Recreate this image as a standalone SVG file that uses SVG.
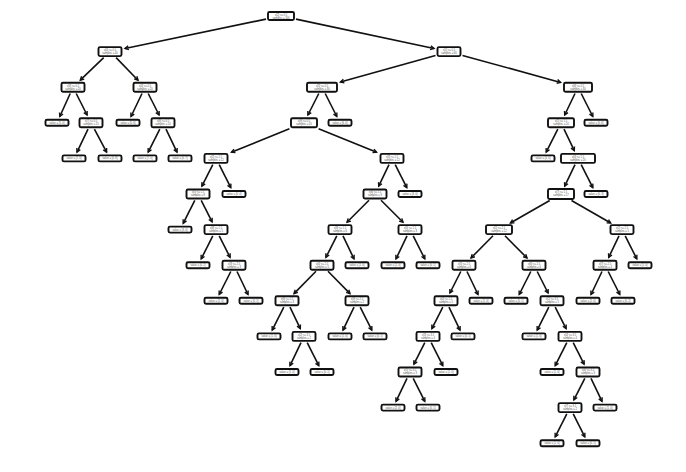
<svg xmlns="http://www.w3.org/2000/svg" width="686" height="472" viewBox="0 0 686 472">
<style>
.b{fill:#fff;stroke:#111;stroke-width:1.9}
.t{font-family:"Liberation Sans",Arial,sans-serif;font-size:2.6px;fill:#555;text-anchor:middle}
.e line{stroke:#111;stroke-width:1.6;fill:none;marker-end:url(#ah)}
</style>
<defs>
<marker id="ah" markerUnits="userSpaceOnUse" viewBox="-5 -3 6 6" refX="0" refY="0" markerWidth="6" markerHeight="6" orient="auto" overflow="visible">
<path d="M-3.6,-1.9 L0,0 L-3.6,1.9" fill="none" stroke="#111" stroke-width="1.4"/>
</marker>
</defs>
<rect width="686" height="472" fill="#fff"/>
<g id="edges" class="e">
<line x1="266" y1="19.1" x2="125" y2="48.5"/>
<line x1="296" y1="19.1" x2="434" y2="48.5"/>
<line x1="103.7" y1="57.6" x2="80.3" y2="80.2"/>
<line x1="116.1" y1="57.6" x2="138" y2="80.2"/>
<line x1="435.5" y1="55.4" x2="340.4" y2="82"/>
<line x1="462.5" y1="55.4" x2="560.6" y2="82.4"/>
<line x1="70.2" y1="93.5" x2="59.8" y2="116.5"/>
<line x1="76.2" y1="93.5" x2="87.1" y2="115"/>
<line x1="142" y1="93.5" x2="131" y2="116.5"/>
<line x1="148.2" y1="93.5" x2="159.1" y2="115"/>
<line x1="318.8" y1="93.5" x2="307.9" y2="115"/>
<line x1="325.2" y1="93.5" x2="336.8" y2="116.5"/>
<line x1="575" y1="93.5" x2="564.7" y2="115"/>
<line x1="581.2" y1="93.5" x2="592.8" y2="116.5"/>
<line x1="88" y1="129.1" x2="77" y2="152.1"/>
<line x1="94.4" y1="129.1" x2="106.6" y2="152.1"/>
<line x1="159.8" y1="129.1" x2="148.2" y2="152.1"/>
<line x1="166" y1="129.1" x2="177" y2="152.1"/>
<line x1="289.4" y1="128.8" x2="231.4" y2="152.2"/>
<line x1="318.6" y1="128.8" x2="376.6" y2="152.2"/>
<line x1="557.8" y1="129.1" x2="546.2" y2="152.1"/>
<line x1="564" y1="129.1" x2="574.3" y2="150.6"/>
<line x1="212.8" y1="164.7" x2="201.9" y2="186.2"/>
<line x1="219.2" y1="164.7" x2="230.8" y2="187.7"/>
<line x1="389" y1="164.7" x2="378.7" y2="186.2"/>
<line x1="395.2" y1="164.7" x2="406.8" y2="187.7"/>
<line x1="575" y1="164.7" x2="564.7" y2="186.2"/>
<line x1="581.2" y1="164.7" x2="592.8" y2="187.7"/>
<line x1="194.8" y1="200.3" x2="183.2" y2="223.3"/>
<line x1="201.2" y1="200.3" x2="212.1" y2="221.8"/>
<line x1="369" y1="200.2" x2="347" y2="222.3"/>
<line x1="381" y1="200.2" x2="403" y2="222.3"/>
<line x1="549.7" y1="200.5" x2="510.4" y2="223"/>
<line x1="571.5" y1="200.5" x2="610.7" y2="223"/>
<line x1="212.8" y1="235.9" x2="201.2" y2="258.9"/>
<line x1="219.2" y1="235.9" x2="230.1" y2="257.4"/>
<line x1="336.8" y1="235.9" x2="325.9" y2="257.4"/>
<line x1="343" y1="235.9" x2="354" y2="258.9"/>
<line x1="407" y1="235.9" x2="396" y2="258.9"/>
<line x1="413.2" y1="235.9" x2="424.8" y2="258.9"/>
<line x1="493" y1="235.8" x2="471" y2="258"/>
<line x1="505" y1="235.8" x2="527" y2="258"/>
<line x1="619" y1="235.9" x2="608.7" y2="257.4"/>
<line x1="625.2" y1="235.9" x2="636.8" y2="258.9"/>
<line x1="230.8" y1="271.5" x2="219.2" y2="294.5"/>
<line x1="237" y1="271.5" x2="248" y2="294.5"/>
<line x1="316" y1="271.3" x2="294" y2="293.6"/>
<line x1="328" y1="271.3" x2="350" y2="293.6"/>
<line x1="460.8" y1="271.5" x2="449.9" y2="293"/>
<line x1="467" y1="271.5" x2="478" y2="294.5"/>
<line x1="530.8" y1="271.5" x2="519.2" y2="294.5"/>
<line x1="537.2" y1="271.5" x2="548.1" y2="293"/>
<line x1="602" y1="271.5" x2="591" y2="294.5"/>
<line x1="608.2" y1="271.5" x2="619.8" y2="294.5"/>
<line x1="283.8" y1="307.1" x2="272.2" y2="330.1"/>
<line x1="290" y1="307.1" x2="300.3" y2="328.6"/>
<line x1="354" y1="307.1" x2="343" y2="330.1"/>
<line x1="360.2" y1="307.1" x2="371.8" y2="330.1"/>
<line x1="442.8" y1="307.1" x2="431.9" y2="328.6"/>
<line x1="449" y1="307.1" x2="460" y2="330.1"/>
<line x1="548.8" y1="307.1" x2="537.2" y2="330.1"/>
<line x1="555.2" y1="307.1" x2="566.1" y2="328.6"/>
<line x1="301" y1="342.7" x2="290" y2="365.7"/>
<line x1="307.2" y1="342.7" x2="318.8" y2="365.7"/>
<line x1="424.8" y1="342.7" x2="413.9" y2="364.2"/>
<line x1="431.2" y1="342.7" x2="442.8" y2="365.7"/>
<line x1="566.8" y1="342.7" x2="555.2" y2="365.7"/>
<line x1="573.2" y1="342.7" x2="584.1" y2="364.2"/>
<line x1="407" y1="378.3" x2="396" y2="401.3"/>
<line x1="413.2" y1="378.3" x2="424.8" y2="401.3"/>
<line x1="584.8" y1="378.3" x2="573.9" y2="399.8"/>
<line x1="591" y1="378.3" x2="602" y2="401.3"/>
<line x1="566.8" y1="413.9" x2="555.2" y2="436.9"/>
<line x1="573.2" y1="413.9" x2="584.8" y2="436.9"/>
</g>
<g id="n0" transform="translate(281,16)"><rect class="b" x="-13" y="-4" width="26" height="8" rx="1.5"/><text class="t" y="-0.4">x[2] &lt;= 0.5</text><text class="t" y="2.6">samples = 100</text></g>
<g id="n1" transform="translate(110,51.6)"><rect class="b" x="-11.5" y="-4.5" width="23" height="9" rx="1.5"/><text class="t" y="-0.6">x[0] &lt;= 0.5</text><text class="t" y="2.4">samples = 40</text></g>
<g id="n2" transform="translate(449,51.6)"><rect class="b" x="-11.5" y="-4.5" width="23" height="9" rx="1.5"/><text class="t" y="-0.6">x[1] &lt;= 0.5</text><text class="t" y="2.4">samples = 60</text></g>
<g id="n3" transform="translate(73,87.2)"><rect class="b" x="-11.5" y="-4.5" width="23" height="9" rx="1.5"/><text class="t" y="-0.6">x[3] &lt;= 0.5</text><text class="t" y="2.4">samples = 20</text></g>
<g id="n4" transform="translate(145,87.2)"><rect class="b" x="-11.5" y="-4.5" width="23" height="9" rx="1.5"/><text class="t" y="-0.6">x[4] &lt;= 0.5</text><text class="t" y="2.4">samples = 20</text></g>
<g id="n5" transform="translate(322,87.2)"><rect class="b" x="-15" y="-4.5" width="30" height="9" rx="1.5"/><text class="t" y="-0.6">x[5] &lt;= 0.5</text><text class="t" y="2.4">samples = 30</text></g>
<g id="n6" transform="translate(578,87.2)"><rect class="b" x="-14" y="-4.5" width="28" height="9" rx="1.5"/><text class="t" y="-0.6">x[6] &lt;= 0.5</text><text class="t" y="2.4">samples = 30</text></g>
<g id="n7" transform="translate(57,122.8)"><rect class="b" x="-11.5" y="-3" width="23" height="6" rx="1.5"/><text class="t" y="1">value = [5, 0]</text></g>
<g id="n8" transform="translate(91,122.8)"><rect class="b" x="-11.5" y="-4.5" width="23" height="9" rx="1.5"/><text class="t" y="-0.6">x[7] &lt;= 0.5</text><text class="t" y="2.4">samples = 15</text></g>
<g id="n9" transform="translate(128,122.8)"><rect class="b" x="-11.5" y="-3" width="23" height="6" rx="1.5"/><text class="t" y="1">value = [0, 6]</text></g>
<g id="n10" transform="translate(163,122.8)"><rect class="b" x="-11.5" y="-4.5" width="23" height="9" rx="1.5"/><text class="t" y="-0.6">x[8] &lt;= 0.5</text><text class="t" y="2.4">samples = 14</text></g>
<g id="n11" transform="translate(304,122.8)"><rect class="b" x="-13" y="-4.5" width="26" height="9" rx="1.5"/><text class="t" y="-0.6">x[9] &lt;= 0.5</text><text class="t" y="2.4">samples = 24</text></g>
<g id="n12" transform="translate(340,122.8)"><rect class="b" x="-11.5" y="-3" width="23" height="6" rx="1.5"/><text class="t" y="1">value = [6, 0]</text></g>
<g id="n13" transform="translate(561,122.8)"><rect class="b" x="-13" y="-4.5" width="26" height="9" rx="1.5"/><text class="t" y="-0.6">x[1] &lt;= 1.5</text><text class="t" y="2.4">samples = 24</text></g>
<g id="n14" transform="translate(596,122.8)"><rect class="b" x="-11.5" y="-3" width="23" height="6" rx="1.5"/><text class="t" y="1">value = [0, 6]</text></g>
<g id="n15" transform="translate(74,158.4)"><rect class="b" x="-11.5" y="-3" width="23" height="6" rx="1.5"/><text class="t" y="1">value = [7, 0]</text></g>
<g id="n16" transform="translate(110,158.4)"><rect class="b" x="-11.5" y="-3" width="23" height="6" rx="1.5"/><text class="t" y="1">value = [0, 8]</text></g>
<g id="n17" transform="translate(145,158.4)"><rect class="b" x="-11.5" y="-3" width="23" height="6" rx="1.5"/><text class="t" y="1">value = [7, 0]</text></g>
<g id="n18" transform="translate(180,158.4)"><rect class="b" x="-11.5" y="-3" width="23" height="6" rx="1.5"/><text class="t" y="1">value = [0, 7]</text></g>
<g id="n19" transform="translate(216,158.4)"><rect class="b" x="-11.5" y="-4.5" width="23" height="9" rx="1.5"/><text class="t" y="-0.6">x[2] &lt;= 1.5</text><text class="t" y="2.4">samples = 12</text></g>
<g id="n20" transform="translate(392,158.4)"><rect class="b" x="-11.5" y="-4.5" width="23" height="9" rx="1.5"/><text class="t" y="-0.6">x[3] &lt;= 1.5</text><text class="t" y="2.4">samples = 12</text></g>
<g id="n21" transform="translate(543,158.4)"><rect class="b" x="-11.5" y="-3" width="23" height="6" rx="1.5"/><text class="t" y="1">value = [4, 0]</text></g>
<g id="n22" transform="translate(578,158.4)"><rect class="b" x="-17" y="-4.5" width="34" height="9" rx="1.5"/><text class="t" y="-0.6">x[4] &lt;= 1.5</text><text class="t" y="2.4">samples = 20</text></g>
<g id="n23" transform="translate(198,194)"><rect class="b" x="-11.5" y="-4.5" width="23" height="9" rx="1.5"/><text class="t" y="-0.6">x[5] &lt;= 1.5</text><text class="t" y="2.4">samples = 8</text></g>
<g id="n24" transform="translate(234,194)"><rect class="b" x="-11.5" y="-3" width="23" height="6" rx="1.5"/><text class="t" y="1">value = [0, 4]</text></g>
<g id="n25" transform="translate(375,194)"><rect class="b" x="-11.5" y="-4.5" width="23" height="9" rx="1.5"/><text class="t" y="-0.6">x[6] &lt;= 1.5</text><text class="t" y="2.4">samples = 9</text></g>
<g id="n26" transform="translate(410,194)"><rect class="b" x="-11.5" y="-3" width="23" height="6" rx="1.5"/><text class="t" y="1">value = [3, 0]</text></g>
<g id="n27" transform="translate(561,194)"><rect class="b" x="-13" y="-5" width="26" height="10" rx="1.5"/><text class="t" y="-0.6">x[7] &lt;= 1.5</text><text class="t" y="2.4">samples = 17</text></g>
<g id="n28" transform="translate(596,194)"><rect class="b" x="-11.5" y="-3" width="23" height="6" rx="1.5"/><text class="t" y="1">value = [0, 3]</text></g>
<g id="n29" transform="translate(180,229.6)"><rect class="b" x="-11.5" y="-3" width="23" height="6" rx="1.5"/><text class="t" y="1">value = [3, 0]</text></g>
<g id="n30" transform="translate(216,229.6)"><rect class="b" x="-11.5" y="-4.5" width="23" height="9" rx="1.5"/><text class="t" y="-0.6">x[8] &lt;= 1.5</text><text class="t" y="2.4">samples = 5</text></g>
<g id="n31" transform="translate(340,229.6)"><rect class="b" x="-11.5" y="-4.5" width="23" height="9" rx="1.5"/><text class="t" y="-0.6">x[9] &lt;= 1.5</text><text class="t" y="2.4">samples = 6</text></g>
<g id="n32" transform="translate(410,229.6)"><rect class="b" x="-11.5" y="-4.5" width="23" height="9" rx="1.5"/><text class="t" y="-0.6">x[0] &lt;= 1.5</text><text class="t" y="2.4">samples = 3</text></g>
<g id="n33" transform="translate(499,229.6)"><rect class="b" x="-13" y="-4.5" width="26" height="9" rx="1.5"/><text class="t" y="-0.6">x[1] &lt;= 2.5</text><text class="t" y="2.4">samples = 12</text></g>
<g id="n34" transform="translate(622,229.6)"><rect class="b" x="-11.5" y="-4.5" width="23" height="9" rx="1.5"/><text class="t" y="-0.6">x[2] &lt;= 2.5</text><text class="t" y="2.4">samples = 5</text></g>
<g id="n35" transform="translate(198,265.2)"><rect class="b" x="-11.5" y="-3" width="23" height="6" rx="1.5"/><text class="t" y="1">value = [0, 2]</text></g>
<g id="n36" transform="translate(234,265.2)"><rect class="b" x="-11.5" y="-4.5" width="23" height="9" rx="1.5"/><text class="t" y="-0.6">x[3] &lt;= 2.5</text><text class="t" y="2.4">samples = 3</text></g>
<g id="n37" transform="translate(322,265.2)"><rect class="b" x="-11.5" y="-4.5" width="23" height="9" rx="1.5"/><text class="t" y="-0.6">x[4] &lt;= 2.5</text><text class="t" y="2.4">samples = 5</text></g>
<g id="n38" transform="translate(357,265.2)"><rect class="b" x="-11.5" y="-3" width="23" height="6" rx="1.5"/><text class="t" y="1">value = [1, 0]</text></g>
<g id="n39" transform="translate(393,265.2)"><rect class="b" x="-11.5" y="-3" width="23" height="6" rx="1.5"/><text class="t" y="1">value = [2, 0]</text></g>
<g id="n40" transform="translate(428,265.2)"><rect class="b" x="-11.5" y="-3" width="23" height="6" rx="1.5"/><text class="t" y="1">value = [0, 1]</text></g>
<g id="n41" transform="translate(464,265.2)"><rect class="b" x="-11.5" y="-4.5" width="23" height="9" rx="1.5"/><text class="t" y="-0.6">x[5] &lt;= 2.5</text><text class="t" y="2.4">samples = 6</text></g>
<g id="n42" transform="translate(534,265.2)"><rect class="b" x="-11.5" y="-4.5" width="23" height="9" rx="1.5"/><text class="t" y="-0.6">x[6] &lt;= 2.5</text><text class="t" y="2.4">samples = 6</text></g>
<g id="n43" transform="translate(605,265.2)"><rect class="b" x="-11.5" y="-4.5" width="23" height="9" rx="1.5"/><text class="t" y="-0.6">x[7] &lt;= 2.5</text><text class="t" y="2.4">samples = 4</text></g>
<g id="n44" transform="translate(640,265.2)"><rect class="b" x="-11.5" y="-3" width="23" height="6" rx="1.5"/><text class="t" y="1">value = [1, 0]</text></g>
<g id="n45" transform="translate(216,300.8)"><rect class="b" x="-11.5" y="-3" width="23" height="6" rx="1.5"/><text class="t" y="1">value = [2, 0]</text></g>
<g id="n46" transform="translate(251,300.8)"><rect class="b" x="-11.5" y="-3" width="23" height="6" rx="1.5"/><text class="t" y="1">value = [0, 1]</text></g>
<g id="n47" transform="translate(287,300.8)"><rect class="b" x="-11.5" y="-4.5" width="23" height="9" rx="1.5"/><text class="t" y="-0.6">x[8] &lt;= 2.5</text><text class="t" y="2.4">samples = 3</text></g>
<g id="n48" transform="translate(357,300.8)"><rect class="b" x="-11.5" y="-4.5" width="23" height="9" rx="1.5"/><text class="t" y="-0.6">x[9] &lt;= 2.5</text><text class="t" y="2.4">samples = 2</text></g>
<g id="n49" transform="translate(446,300.8)"><rect class="b" x="-11.5" y="-4.5" width="23" height="9" rx="1.5"/><text class="t" y="-0.6">x[0] &lt;= 2.5</text><text class="t" y="2.4">samples = 5</text></g>
<g id="n50" transform="translate(481,300.8)"><rect class="b" x="-11.5" y="-3" width="23" height="6" rx="1.5"/><text class="t" y="1">value = [1, 0]</text></g>
<g id="n51" transform="translate(516,300.8)"><rect class="b" x="-11.5" y="-3" width="23" height="6" rx="1.5"/><text class="t" y="1">value = [0, 1]</text></g>
<g id="n52" transform="translate(552,300.8)"><rect class="b" x="-11.5" y="-4.5" width="23" height="9" rx="1.5"/><text class="t" y="-0.6">x[1] &lt;= 3.5</text><text class="t" y="2.4">samples = 5</text></g>
<g id="n53" transform="translate(588,300.8)"><rect class="b" x="-11.5" y="-3" width="23" height="6" rx="1.5"/><text class="t" y="1">value = [2, 0]</text></g>
<g id="n54" transform="translate(623,300.8)"><rect class="b" x="-11.5" y="-3" width="23" height="6" rx="1.5"/><text class="t" y="1">value = [0, 2]</text></g>
<g id="n55" transform="translate(269,336.4)"><rect class="b" x="-11.5" y="-3" width="23" height="6" rx="1.5"/><text class="t" y="1">value = [1, 0]</text></g>
<g id="n56" transform="translate(304,336.4)"><rect class="b" x="-11.5" y="-4.5" width="23" height="9" rx="1.5"/><text class="t" y="-0.6">x[2] &lt;= 3.5</text><text class="t" y="2.4">samples = 2</text></g>
<g id="n57" transform="translate(340,336.4)"><rect class="b" x="-11.5" y="-3" width="23" height="6" rx="1.5"/><text class="t" y="1">value = [1, 0]</text></g>
<g id="n58" transform="translate(375,336.4)"><rect class="b" x="-11.5" y="-3" width="23" height="6" rx="1.5"/><text class="t" y="1">value = [0, 1]</text></g>
<g id="n59" transform="translate(428,336.4)"><rect class="b" x="-11.5" y="-4.5" width="23" height="9" rx="1.5"/><text class="t" y="-0.6">x[3] &lt;= 3.5</text><text class="t" y="2.4">samples = 4</text></g>
<g id="n60" transform="translate(463,336.4)"><rect class="b" x="-11.5" y="-3" width="23" height="6" rx="1.5"/><text class="t" y="1">value = [0, 1]</text></g>
<g id="n61" transform="translate(534,336.4)"><rect class="b" x="-11.5" y="-3" width="23" height="6" rx="1.5"/><text class="t" y="1">value = [1, 0]</text></g>
<g id="n62" transform="translate(570,336.4)"><rect class="b" x="-11.5" y="-4.5" width="23" height="9" rx="1.5"/><text class="t" y="-0.6">x[4] &lt;= 3.5</text><text class="t" y="2.4">samples = 4</text></g>
<g id="n63" transform="translate(287,372)"><rect class="b" x="-11.5" y="-3" width="23" height="6" rx="1.5"/><text class="t" y="1">value = [1, 0]</text></g>
<g id="n64" transform="translate(322,372)"><rect class="b" x="-11.5" y="-3" width="23" height="6" rx="1.5"/><text class="t" y="1">value = [0, 1]</text></g>
<g id="n65" transform="translate(410,372)"><rect class="b" x="-11.5" y="-4.5" width="23" height="9" rx="1.5"/><text class="t" y="-0.6">x[5] &lt;= 3.5</text><text class="t" y="2.4">samples = 3</text></g>
<g id="n66" transform="translate(446,372)"><rect class="b" x="-11.5" y="-3" width="23" height="6" rx="1.5"/><text class="t" y="1">value = [1, 0]</text></g>
<g id="n67" transform="translate(552,372)"><rect class="b" x="-11.5" y="-3" width="23" height="6" rx="1.5"/><text class="t" y="1">value = [1, 0]</text></g>
<g id="n68" transform="translate(588,372)"><rect class="b" x="-11.5" y="-4.5" width="23" height="9" rx="1.5"/><text class="t" y="-0.6">x[6] &lt;= 3.5</text><text class="t" y="2.4">samples = 3</text></g>
<g id="n69" transform="translate(393,407.6)"><rect class="b" x="-11.5" y="-3" width="23" height="6" rx="1.5"/><text class="t" y="1">value = [2, 0]</text></g>
<g id="n70" transform="translate(428,407.6)"><rect class="b" x="-11.5" y="-3" width="23" height="6" rx="1.5"/><text class="t" y="1">value = [0, 1]</text></g>
<g id="n71" transform="translate(570,407.6)"><rect class="b" x="-11.5" y="-4.5" width="23" height="9" rx="1.5"/><text class="t" y="-0.6">x[7] &lt;= 3.5</text><text class="t" y="2.4">samples = 2</text></g>
<g id="n72" transform="translate(605,407.6)"><rect class="b" x="-11.5" y="-3" width="23" height="6" rx="1.5"/><text class="t" y="1">value = [1, 0]</text></g>
<g id="n73" transform="translate(552,443.2)"><rect class="b" x="-11.5" y="-3" width="23" height="6" rx="1.5"/><text class="t" y="1">value = [1, 0]</text></g>
<g id="n74" transform="translate(588,443.2)"><rect class="b" x="-11.5" y="-3" width="23" height="6" rx="1.5"/><text class="t" y="1">value = [0, 1]</text></g>
</svg>
